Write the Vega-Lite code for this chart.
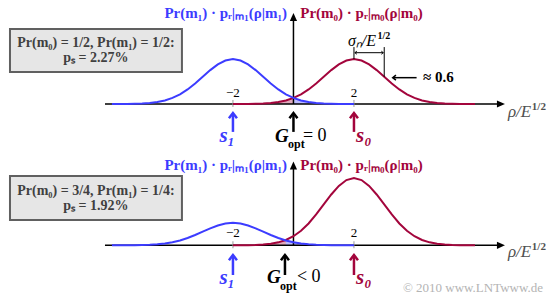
{
  "$schema": "https://vega.github.io/schema/vega-lite/v6.json",
  "padding": 0,
  "spacing": 0,
  "bounds": "flush",
  "background": "white",
  "config": {"view": {"stroke": null}, "axis": {"disable": true}, "concat": {"spacing": 0}},
  "datasets": {
    "curves": [
      {"x": -6, "t1": 0.0001, "b1": 0},
      {"x": -5.75, "t1": 0.0002, "b1": 0.0001},
      {"x": -5.5, "t1": 0.0004, "b1": 0.0002},
      {"x": -5.25, "t1": 0.001, "b1": 0.0005},
      {"x": -5, "t1": 0.0022, "b1": 0.0011},
      {"x": -4.75, "t1": 0.0045, "b1": 0.0023},
      {"x": -4.5, "t1": 0.0088, "b1": 0.0044},
      {"x": -4.25, "t1": 0.0159, "b1": 0.0079},
      {"x": -4, "t1": 0.027, "b1": 0.0135},
      {"x": -3.75, "t1": 0.0431, "b1": 0.0216},
      {"x": -3.5, "t1": 0.0648, "b1": 0.0324},
      {"x": -3.25, "t1": 0.0913, "b1": 0.0457},
      {"x": -3, "t1": 0.121, "b1": 0.0605},
      {"x": -2.75, "t1": 0.1506, "b1": 0.0753},
      {"x": -2.5, "t1": 0.176, "b1": 0.088},
      {"x": -2.25, "t1": 0.1933, "b1": 0.0967},
      {"x": -2, "t1": 0.1995, "b1": 0.0997, "t0": 0.0001, "b0": 0.0001},
      {"x": -1.75, "t1": 0.1933, "b1": 0.0967, "t0": 0.0002, "b0": 0.0003},
      {"x": -1.5, "t1": 0.176, "b1": 0.088, "t0": 0.0004, "b0": 0.0007},
      {"x": -1.25, "t1": 0.1506, "b1": 0.0753, "t0": 0.001, "b0": 0.0015},
      {"x": -1, "t1": 0.121, "b1": 0.0605, "t0": 0.0022, "b0": 0.0033},
      {"x": -0.75, "t1": 0.0913, "b1": 0.0457, "t0": 0.0045, "b0": 0.0068},
      {"x": -0.5, "t1": 0.0648, "b1": 0.0324, "t0": 0.0088, "b0": 0.0131},
      {"x": -0.25, "t1": 0.0431, "b1": 0.0216, "t0": 0.0159, "b0": 0.0238},
      {"x": 0, "t1": 0.027, "b1": 0.0135, "t0": 0.027, "b0": 0.0405},
      {"x": 0.25, "t1": 0.0159, "b1": 0.0079, "t0": 0.0431, "b0": 0.0647},
      {"x": 0.5, "t1": 0.0088, "b1": 0.0044, "t0": 0.0648, "b0": 0.0971},
      {"x": 0.75, "t1": 0.0045, "b1": 0.0023, "t0": 0.0913, "b0": 0.137},
      {"x": 1, "t1": 0.0022, "b1": 0.0011, "t0": 0.121, "b0": 0.1815},
      {"x": 1.25, "t1": 0.001, "b1": 0.0005, "t0": 0.1506, "b0": 0.2259},
      {"x": 1.5, "t1": 0.0004, "b1": 0.0002, "t0": 0.176, "b0": 0.264},
      {"x": 1.75, "t1": 0.0002, "b1": 0.0001, "t0": 0.1933, "b0": 0.29},
      {"x": 2, "t1": 0.0001, "b1": 0, "t0": 0.1995, "b0": 0.2992},
      {"x": 2.25, "t0": 0.1933, "b0": 0.29},
      {"x": 2.5, "t0": 0.176, "b0": 0.264},
      {"x": 2.75, "t0": 0.1506, "b0": 0.2259},
      {"x": 3, "t0": 0.121, "b0": 0.1815},
      {"x": 3.25, "t0": 0.0913, "b0": 0.137},
      {"x": 3.5, "t0": 0.0648, "b0": 0.0971},
      {"x": 3.75, "t0": 0.0431, "b0": 0.0647},
      {"x": 4, "t0": 0.027, "b0": 0.0405},
      {"x": 4.25, "t0": 0.0159, "b0": 0.0238},
      {"x": 4.5, "t0": 0.0088, "b0": 0.0131},
      {"x": 4.75, "t0": 0.0045, "b0": 0.0068},
      {"x": 5, "t0": 0.0022, "b0": 0.0033},
      {"x": 5.25, "t0": 0.001, "b0": 0.0015},
      {"x": 5.5, "t0": 0.0004, "b0": 0.0007},
      {"x": 5.75, "t0": 0.0002, "b0": 0.0003},
      {"x": 6, "t0": 0.0001, "b0": 0.0001}
    ]
  },
  "vconcat": [
    {
      "width": 555,
      "height": 149,
      "data": {"values": [{}]},
      "layer": [
        {"data": {"name": "curves"}, "transform": [{"filter": "datum.x >= -1.25 && datum.x <= 0"}],
         "mark": {"type": "area", "color": "#a3053c", "opacity": 0.35},
         "encoding": {"x": {"field": "x", "type": "quantitative", "scale": {"domain": [-9.7, 8.645], "nice": false, "zero": false}, "axis": null},
                      "y": {"field": "t0", "type": "quantitative", "scale": {"domain": [-0.2, 0.4622], "nice": false, "zero": false}, "axis": null}}},
        {"data": {"name": "curves"}, "transform": [{"filter": "datum.x >= 0 && datum.x <= 1.25"}],
         "mark": {"type": "area", "color": "#3c3cff", "opacity": 0.35},
         "encoding": {"x": {"field": "x", "type": "quantitative", "scale": {"domain": [-9.7, 8.645], "nice": false, "zero": false}, "axis": null},
                      "y": {"field": "t1", "type": "quantitative", "scale": {"domain": [-0.2, 0.4622], "nice": false, "zero": false}, "axis": null}}},
        {"mark": {"type": "rule", "color": "black", "strokeWidth": 1.5},
         "encoding": {"x": {"datum": -6.23}, "x2": {"datum": 6.75}, "y": {"datum": 0}}},
        {"mark": {"type": "point", "shape": "M0,0L-2,-0.9L-2,0.9Z", "filled": true, "color": "black", "opacity": 1, "size": 64},
         "encoding": {"x": {"datum": 6.99}, "y": {"datum": 0}}},
        {"mark": {"type": "rule", "color": "black", "strokeWidth": 1.5},
         "encoding": {"x": {"datum": 0}, "y": {"datum": 0}, "y2": {"datum": 0.375}}},
        {"mark": {"type": "point", "shape": "M0,0L-0.9,2L0.9,2Z", "filled": true, "color": "black", "opacity": 1, "size": 64},
         "encoding": {"x": {"datum": 0}, "y": {"datum": 0.404}}},
        {"mark": {"type": "rule", "color": "#999999", "strokeWidth": 1},
         "encoding": {"x": {"datum": -2}, "y": {"datum": -0.013}, "y2": {"datum": 0.018}}},
        {"mark": {"type": "rule", "color": "#999999", "strokeWidth": 1},
         "encoding": {"x": {"datum": 2}, "y": {"datum": -0.013}, "y2": {"datum": 0.018}}},
        {"data": {"name": "curves"}, "transform": [{"filter": "isValid(datum.t0)"}],
         "mark": {"type": "line", "color": "#a3053c", "strokeWidth": 2},
         "encoding": {"x": {"field": "x", "type": "quantitative", "scale": {"domain": [-9.7, 8.645], "nice": false, "zero": false}, "axis": null},
                      "y": {"field": "t0", "type": "quantitative", "scale": {"domain": [-0.2, 0.4622], "nice": false, "zero": false}, "axis": null}}},
        {"data": {"name": "curves"}, "transform": [{"filter": "isValid(datum.t1)"}],
         "mark": {"type": "line", "color": "#3c3cff", "strokeWidth": 2},
         "encoding": {"x": {"field": "x", "type": "quantitative", "scale": {"domain": [-9.7, 8.645], "nice": false, "zero": false}, "axis": null},
                      "y": {"field": "t1", "type": "quantitative", "scale": {"domain": [-0.2, 0.4622], "nice": false, "zero": false}, "axis": null}}},
        {"mark": {"type": "text", "text": "−2", "align": "center", "baseline": "alphabetic", "font": "Liberation Serif", "fontSize": 13, "color": "black"},
         "encoding": {"x": {"datum": -2}, "y": {"datum": 0.03}}},
        {"mark": {"type": "text", "text": "2", "align": "center", "baseline": "alphabetic", "font": "Liberation Serif", "fontSize": 13, "color": "black"},
         "encoding": {"x": {"datum": 2}, "y": {"datum": 0.03}}},
        {"mark": {"type": "text", "text": "Pr(m₁) · pᵣ|ₘ₁(ρ|m₁)", "align": "center", "baseline": "alphabetic", "font": "Liberation Serif", "fontSize": 15, "fontWeight": "bold", "color": "#3c3cff"},
         "encoding": {"x": {"datum": -2.24}, "y": {"datum": 0.382}}},
        {"mark": {"type": "text", "text": "Pr(m₀) · pᵣ|ₘ₀(ρ|m₀)", "align": "center", "baseline": "alphabetic", "font": "Liberation Serif", "fontSize": 15, "fontWeight": "bold", "color": "#a3053c"},
         "encoding": {"x": {"datum": 2.25}, "y": {"datum": 0.382}}},
        {"mark": {"type": "rect", "fill": "#e6e6e6", "stroke": "#606060", "strokeWidth": 2},
         "encoding": {"x": {"datum": -9.37}, "x2": {"datum": -3.686}, "y": {"datum": 0.333}, "y2": {"datum": 0.142}}},
        {"mark": {"type": "text", "text": "Pr(m₀) = 1/2, Pr(m₁) = 1/2:", "align": "center", "baseline": "alphabetic", "font": "Liberation Serif", "fontSize": 14, "fontWeight": "bold", "color": "#404040"},
         "encoding": {"x": {"datum": -6.53}, "y": {"datum": 0.253}}},
        {"mark": {"type": "text", "text": "pₛ = 2.27%", "align": "center", "baseline": "alphabetic", "font": "Liberation Serif", "fontSize": 14, "fontWeight": "bold", "color": "#404040"},
         "encoding": {"x": {"datum": -6.53}, "y": {"datum": 0.188}}},
        {"mark": {"type": "rule", "color": "#3c3cff", "strokeWidth": 2.5},
         "encoding": {"x": {"datum": -2}, "y": {"datum": -0.045}, "y2": {"datum": -0.124}}},
        {"mark": {"type": "point", "shape": "M-1,1.3L0,0L1,1.3", "filled": false, "color": "#3c3cff", "strokeWidth": 2.5, "opacity": 1, "size": 64},
         "encoding": {"x": {"datum": -2}, "y": {"datum": -0.04}}},
        {"mark": {"type": "text", "text": "s₁", "align": "right", "baseline": "alphabetic", "font": "Liberation Serif", "fontSize": 21, "fontWeight": "bold", "fontStyle": "italic", "color": "#3c3cff"},
         "encoding": {"x": {"datum": -1.934}, "y": {"datum": -0.169}}},
        {"mark": {"type": "rule", "color": "black", "strokeWidth": 2.5},
         "encoding": {"x": {"datum": 0}, "y": {"datum": -0.045}, "y2": {"datum": -0.124}}},
        {"mark": {"type": "point", "shape": "M-1,1.3L0,0L1,1.3", "filled": false, "color": "black", "strokeWidth": 2.5, "opacity": 1, "size": 64},
         "encoding": {"x": {"datum": 0}, "y": {"datum": -0.04}}},
        {"mark": {"type": "text", "text": "G", "align": "left", "baseline": "alphabetic", "font": "Liberation Serif", "fontSize": 19, "fontWeight": "bold", "fontStyle": "italic", "color": "black"},
         "encoding": {"x": {"datum": -0.612}, "y": {"datum": -0.169}}},
        {"mark": {"type": "text", "text": "opt", "align": "left", "baseline": "alphabetic", "font": "Liberation Serif", "fontSize": 12, "fontWeight": "bold", "color": "black"},
         "encoding": {"x": {"datum": -0.182}, "y": {"datum": -0.196}}},
        {"mark": {"type": "text", "text": "= 0", "align": "left", "baseline": "alphabetic", "font": "Liberation Serif", "fontSize": 18, "color": "black"},
         "encoding": {"x": {"datum": 0.314}, "y": {"datum": -0.164}}},
        {"mark": {"type": "rule", "color": "#a3053c", "strokeWidth": 2.5},
         "encoding": {"x": {"datum": 2}, "y": {"datum": -0.045}, "y2": {"datum": -0.124}}},
        {"mark": {"type": "point", "shape": "M-1,1.3L0,0L1,1.3", "filled": false, "color": "#a3053c", "strokeWidth": 2.5, "opacity": 1, "size": 64},
         "encoding": {"x": {"datum": 2}, "y": {"datum": -0.04}}},
        {"mark": {"type": "text", "text": "s₀", "align": "left", "baseline": "alphabetic", "font": "Liberation Serif", "fontSize": 21, "fontWeight": "bold", "fontStyle": "italic", "color": "#a3053c"},
         "encoding": {"x": {"datum": 2.066}, "y": {"datum": -0.169}}},
        {"mark": {"type": "text", "text": "ρ/E", "align": "left", "baseline": "alphabetic", "font": "Liberation Serif", "fontSize": 17, "fontStyle": "italic", "color": "#505050"},
         "encoding": {"x": {"datum": 7.09}, "y": {"datum": -0.058}}},
        {"mark": {"type": "text", "text": "1/2", "align": "left", "baseline": "alphabetic", "font": "Liberation Serif", "fontSize": 11, "fontWeight": "bold", "color": "#505050"},
         "encoding": {"x": {"datum": 7.88}, "y": {"datum": -0.026}}},
        {"mark": {"type": "rule", "color": "black", "strokeWidth": 1},
         "encoding": {"x": {"datum": 2}, "y": {"datum": 0.2}, "y2": {"datum": 0.253}}},
        {"mark": {"type": "rule", "color": "black", "strokeWidth": 1},
         "encoding": {"x": {"datum": 3}, "y": {"datum": 0.121}, "y2": {"datum": 0.253}}},
        {"mark": {"type": "rule", "color": "black", "strokeWidth": 1},
         "encoding": {"x": {"datum": 2.03}, "x2": {"datum": 2.97}, "y": {"datum": 0.228}}},
        {"mark": {"type": "point", "shape": "M1.3,-1L0,0L1.3,1", "filled": false, "color": "black", "strokeWidth": 1, "opacity": 1, "size": 9},
         "encoding": {"x": {"datum": 2.03}, "y": {"datum": 0.228}}},
        {"mark": {"type": "point", "shape": "M-1.3,-1L0,0L-1.3,1", "filled": false, "color": "black", "strokeWidth": 1, "opacity": 1, "size": 9},
         "encoding": {"x": {"datum": 2.97}, "y": {"datum": 0.228}}},
        {"mark": {"type": "text", "text": "σₙ/E", "align": "left", "baseline": "alphabetic", "font": "Liberation Serif", "fontSize": 16, "fontStyle": "italic", "color": "black"},
         "encoding": {"x": {"datum": 1.8}, "y": {"datum": 0.258}}},
        {"mark": {"type": "text", "text": "1/2", "align": "left", "baseline": "alphabetic", "font": "Liberation Serif", "fontSize": 10, "fontWeight": "bold", "color": "black"},
         "encoding": {"x": {"datum": 2.78}, "y": {"datum": 0.287}}},
        {"mark": {"type": "rule", "color": "black", "strokeWidth": 1.5},
         "encoding": {"x": {"datum": 3.32}, "x2": {"datum": 4.07}, "y": {"datum": 0.117}}},
        {"mark": {"type": "point", "shape": "M1.3,-1L0,0L1.3,1", "filled": false, "color": "black", "strokeWidth": 1.5, "opacity": 1, "size": 25},
         "encoding": {"x": {"datum": 3.28}, "y": {"datum": 0.117}}},
        {"mark": {"type": "text", "text": "≈ 0.6", "align": "left", "baseline": "alphabetic", "font": "Liberation Serif", "fontSize": 15, "fontWeight": "bold", "color": "black"},
         "encoding": {"x": {"datum": 4.28}, "y": {"datum": 0.098}}}
      ]
    },
    {
      "width": 555,
      "height": 149,
      "data": {"values": [{}]},
      "layer": [
        {"data": {"name": "curves"}, "transform": [{"filter": "datum.x >= -1.25 && datum.x <= -0.25"}],
         "mark": {"type": "area", "color": "#a3053c", "opacity": 0.35},
         "encoding": {"x": {"field": "x", "type": "quantitative", "scale": {"domain": [-9.7, 8.645], "nice": false, "zero": false}, "axis": null},
                      "y": {"field": "b0", "type": "quantitative", "scale": {"domain": [-0.2342, 0.428], "nice": false, "zero": false}, "axis": null}}},
        {"data": {"name": "curves"}, "transform": [{"filter": "datum.x >= -0.25 && datum.x <= 1.25"}],
         "mark": {"type": "area", "color": "#3c3cff", "opacity": 0.35},
         "encoding": {"x": {"field": "x", "type": "quantitative", "scale": {"domain": [-9.7, 8.645], "nice": false, "zero": false}, "axis": null},
                      "y": {"field": "b1", "type": "quantitative", "scale": {"domain": [-0.2342, 0.428], "nice": false, "zero": false}, "axis": null}}},
        {"mark": {"type": "rule", "color": "black", "strokeWidth": 1.5},
         "encoding": {"x": {"datum": -6.23}, "x2": {"datum": 6.75}, "y": {"datum": 0}}},
        {"mark": {"type": "point", "shape": "M0,0L-2,-0.9L-2,0.9Z", "filled": true, "color": "black", "opacity": 1, "size": 64},
         "encoding": {"x": {"datum": 6.99}, "y": {"datum": 0}}},
        {"mark": {"type": "rule", "color": "black", "strokeWidth": 1.5},
         "encoding": {"x": {"datum": 0}, "y": {"datum": 0}, "y2": {"datum": 0.345}}},
        {"mark": {"type": "point", "shape": "M0,0L-0.9,2L0.9,2Z", "filled": true, "color": "black", "opacity": 1, "size": 64},
         "encoding": {"x": {"datum": 0}, "y": {"datum": 0.373}}},
        {"mark": {"type": "rule", "color": "#999999", "strokeWidth": 1},
         "encoding": {"x": {"datum": -2}, "y": {"datum": -0.013}, "y2": {"datum": 0.018}}},
        {"mark": {"type": "rule", "color": "#999999", "strokeWidth": 1},
         "encoding": {"x": {"datum": 2}, "y": {"datum": -0.013}, "y2": {"datum": 0.018}}},
        {"data": {"name": "curves"}, "transform": [{"filter": "isValid(datum.b0)"}],
         "mark": {"type": "line", "color": "#a3053c", "strokeWidth": 2},
         "encoding": {"x": {"field": "x", "type": "quantitative", "scale": {"domain": [-9.7, 8.645], "nice": false, "zero": false}, "axis": null},
                      "y": {"field": "b0", "type": "quantitative", "scale": {"domain": [-0.2342, 0.428], "nice": false, "zero": false}, "axis": null}}},
        {"data": {"name": "curves"}, "transform": [{"filter": "isValid(datum.b1)"}],
         "mark": {"type": "line", "color": "#3c3cff", "strokeWidth": 2},
         "encoding": {"x": {"field": "x", "type": "quantitative", "scale": {"domain": [-9.7, 8.645], "nice": false, "zero": false}, "axis": null},
                      "y": {"field": "b1", "type": "quantitative", "scale": {"domain": [-0.2342, 0.428], "nice": false, "zero": false}, "axis": null}}},
        {"mark": {"type": "text", "text": "−2", "align": "center", "baseline": "alphabetic", "font": "Liberation Serif", "fontSize": 13, "color": "black"},
         "encoding": {"x": {"datum": -2}, "y": {"datum": 0.036}}},
        {"mark": {"type": "text", "text": "2", "align": "center", "baseline": "alphabetic", "font": "Liberation Serif", "fontSize": 13, "color": "black"},
         "encoding": {"x": {"datum": 2}, "y": {"datum": 0.036}}},
        {"mark": {"type": "text", "text": "Pr(m₁) · pᵣ|ₘ₁(ρ|m₁)", "align": "center", "baseline": "alphabetic", "font": "Liberation Serif", "fontSize": 15, "fontWeight": "bold", "color": "#3c3cff"},
         "encoding": {"x": {"datum": -2.24}, "y": {"datum": 0.335}}},
        {"mark": {"type": "text", "text": "Pr(m₀) · pᵣ|ₘ₀(ρ|m₀)", "align": "center", "baseline": "alphabetic", "font": "Liberation Serif", "fontSize": 15, "fontWeight": "bold", "color": "#a3053c"},
         "encoding": {"x": {"datum": 2.25}, "y": {"datum": 0.335}}},
        {"mark": {"type": "rect", "fill": "#e6e6e6", "stroke": "#606060", "strokeWidth": 2},
         "encoding": {"x": {"datum": -9.37}, "x2": {"datum": -3.686}, "y": {"datum": 0.308}, "y2": {"datum": 0.1124}}},
        {"mark": {"type": "text", "text": "Pr(m₀) = 3/4, Pr(m₁) = 1/4:", "align": "center", "baseline": "alphabetic", "font": "Liberation Serif", "fontSize": 14, "fontWeight": "bold", "color": "#404040"},
         "encoding": {"x": {"datum": -6.53}, "y": {"datum": 0.225}}},
        {"mark": {"type": "text", "text": "pₛ = 1.92%", "align": "center", "baseline": "alphabetic", "font": "Liberation Serif", "fontSize": 14, "fontWeight": "bold", "color": "#404040"},
         "encoding": {"x": {"datum": -6.53}, "y": {"datum": 0.158}}},
        {"mark": {"type": "rule", "color": "#3c3cff", "strokeWidth": 2.5},
         "encoding": {"x": {"datum": -2}, "y": {"datum": -0.048}, "y2": {"datum": -0.132}}},
        {"mark": {"type": "point", "shape": "M-1,1.3L0,0L1,1.3", "filled": false, "color": "#3c3cff", "strokeWidth": 2.5, "opacity": 1, "size": 64},
         "encoding": {"x": {"datum": -2}, "y": {"datum": -0.043}}},
        {"mark": {"type": "text", "text": "s₁", "align": "right", "baseline": "alphabetic", "font": "Liberation Serif", "fontSize": 21, "fontWeight": "bold", "fontStyle": "italic", "color": "#3c3cff"},
         "encoding": {"x": {"datum": -1.934}, "y": {"datum": -0.172}}},
        {"mark": {"type": "rule", "color": "black", "strokeWidth": 2.5},
         "encoding": {"x": {"datum": -0.281}, "y": {"datum": -0.048}, "y2": {"datum": -0.132}}},
        {"mark": {"type": "point", "shape": "M-1,1.3L0,0L1,1.3", "filled": false, "color": "black", "strokeWidth": 2.5, "opacity": 1, "size": 64},
         "encoding": {"x": {"datum": -0.281}, "y": {"datum": -0.043}}},
        {"mark": {"type": "text", "text": "G", "align": "left", "baseline": "alphabetic", "font": "Liberation Serif", "fontSize": 19, "fontWeight": "bold", "fontStyle": "italic", "color": "black"},
         "encoding": {"x": {"datum": -0.876}, "y": {"datum": -0.168}}},
        {"mark": {"type": "text", "text": "opt", "align": "left", "baseline": "alphabetic", "font": "Liberation Serif", "fontSize": 12, "fontWeight": "bold", "color": "black"},
         "encoding": {"x": {"datum": -0.446}, "y": {"datum": -0.199}}},
        {"mark": {"type": "text", "text": "< 0", "align": "left", "baseline": "alphabetic", "font": "Liberation Serif", "fontSize": 18, "color": "black"},
         "encoding": {"x": {"datum": 0.116}, "y": {"datum": -0.163}}},
        {"mark": {"type": "rule", "color": "#a3053c", "strokeWidth": 2.5},
         "encoding": {"x": {"datum": 2}, "y": {"datum": -0.048}, "y2": {"datum": -0.132}}},
        {"mark": {"type": "point", "shape": "M-1,1.3L0,0L1,1.3", "filled": false, "color": "#a3053c", "strokeWidth": 2.5, "opacity": 1, "size": 64},
         "encoding": {"x": {"datum": 2}, "y": {"datum": -0.043}}},
        {"mark": {"type": "text", "text": "s₀", "align": "left", "baseline": "alphabetic", "font": "Liberation Serif", "fontSize": 21, "fontWeight": "bold", "fontStyle": "italic", "color": "#a3053c"},
         "encoding": {"x": {"datum": 2.066}, "y": {"datum": -0.172}}},
        {"mark": {"type": "text", "text": "ρ/E", "align": "left", "baseline": "alphabetic", "font": "Liberation Serif", "fontSize": 17, "fontStyle": "italic", "color": "#505050"},
         "encoding": {"x": {"datum": 7.09}, "y": {"datum": -0.054}}},
        {"mark": {"type": "text", "text": "1/2", "align": "left", "baseline": "alphabetic", "font": "Liberation Serif", "fontSize": 11, "fontWeight": "bold", "color": "#505050"},
         "encoding": {"x": {"datum": 7.88}, "y": {"datum": -0.022}}},
        {"mark": {"type": "text", "text": "© 2010 www.LNTwww.de", "align": "right", "baseline": "alphabetic", "font": "Liberation Serif", "fontSize": 13, "color": "#b4b4b4"},
         "encoding": {"x": {"datum": 8.25}, "y": {"datum": -0.2076}}}
      ]
    }
  ]
}
